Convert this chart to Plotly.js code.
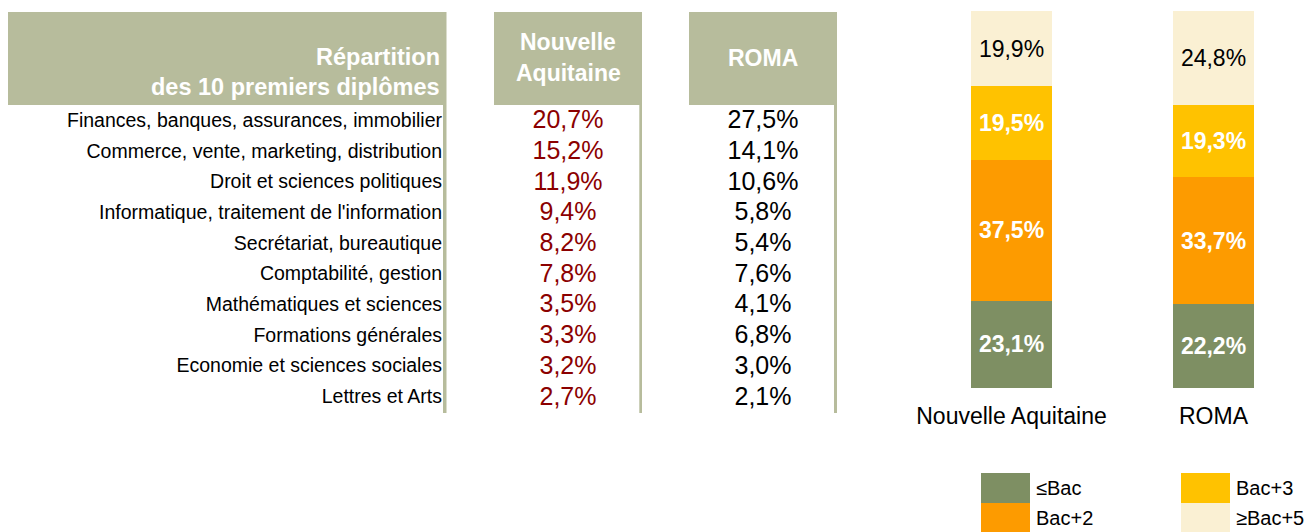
<!DOCTYPE html>
<html>
<head>
<meta charset="utf-8">
<script src="https://cdn.plot.ly/plotly-3.0.1.min.js"></script>
<style>
html,body{margin:0;padding:0;background:#fff;}
#chart{width:1307px;height:532px;}
</style>
</head>
<body>
<div id="chart"></div>
<script>
// ---------- DATA ----------
var diplomes = [
  "Finances, banques, assurances, immobilier",
  "Commerce, vente, marketing, distribution",
  "Droit et sciences politiques",
  "Informatique, traitement de l'information",
  "Secrétariat, bureautique",
  "Comptabilité, gestion",
  "Mathématiques et sciences",
  "Formations générales",
  "Economie et sciences sociales",
  "Lettres et Arts"
];
var partNouvelleAquitaine = [20.7, 15.2, 11.9, 9.4, 8.2, 7.8, 3.5, 3.3, 3.2, 2.7];
var partRoma = [27.5, 14.1, 10.6, 5.8, 5.4, 7.6, 4.1, 6.8, 3.0, 2.1];

var territoires = ["Nouvelle Aquitaine", "ROMA"];
var niveaux = ["≤Bac", "Bac+2", "Bac+3", "≥Bac+5"];
var niveauBac = [23.1, 22.2];
var niveauBac2 = [37.5, 33.7];
var niveauBac3 = [19.5, 19.3];
var niveauBac5 = [19.9, 24.8];

var tableHeaderLeft = ["Répartition", "des 10 premiers diplômes"];
var tableHeaderNA = ["Nouvelle", "Aquitaine"];
var tableHeaderRoma = ["ROMA"];

// ---------- STYLE ----------
var W = 1307, H = 532;
var FONT = "Liberation Sans, Arial, sans-serif";
var headerColor = "#B7BC9C";
var niveauColors = ["#7E8F63", "#FD9B00", "#FFC200", "#FAF0D3"];
function px(x){ return x / W; }
function py(y){ return 1 - y / H; }
function fmt(v){ return v.toFixed(1).replace('.', ',') + '%'; }

var series = [niveauBac, niveauBac2, niveauBac3, niveauBac5];
var traces = [];

series.forEach(function(vals, i){
  var light = (i === 3);
  traces.push({
    type: 'bar',
    name: niveaux[i],
    x: territoires,
    y: vals,
    xaxis: 'x', yaxis: 'y',
    width: 0.401,
    marker: {color: niveauColors[i], line: {width: 0}},
    text: vals.map(fmt),
    textposition: 'inside',
    insidetextanchor: 'middle',
    textangle: 0,
    constraintext: 'none',
    textfont: {family: FONT, size: 23, color: light ? '#000000' : '#FFFFFF', weight: light ? 'normal' : 'bold'},
    hoverinfo: 'skip',
    showlegend: false
  });
});

var labelX = diplomes.map(function(){ return 442; });
var naX = diplomes.map(function(){ return 568; });
var romaX = diplomes.map(function(){ return 763; });
traces.push({
  type: 'scatter', mode: 'text', xaxis: 'x2', yaxis: 'y2',
  x: labelX, y: diplomes, text: diplomes,
  textposition: 'middle left',
  textfont: {family: FONT, size: 19.5, color: '#000000'},
  hoverinfo: 'skip', showlegend: false, cliponaxis: false
});
traces.push({
  type: 'scatter', mode: 'text', xaxis: 'x2', yaxis: 'y2',
  x: naX, y: diplomes, text: partNouvelleAquitaine.map(fmt),
  textposition: 'middle center',
  textfont: {family: FONT, size: 25, color: '#8B0000'},
  hoverinfo: 'skip', showlegend: false, cliponaxis: false
});
traces.push({
  type: 'scatter', mode: 'text', xaxis: 'x2', yaxis: 'y2',
  x: romaX, y: diplomes, text: partRoma.map(fmt),
  textposition: 'middle center',
  textfont: {family: FONT, size: 25, color: '#000000'},
  hoverinfo: 'skip', showlegend: false, cliponaxis: false
});

// row geometry: first row centre at 122px, pitch 30.7px
var rowC0 = 122, rowPitch = 30.7;
var rowTop = -rowC0 / rowPitch, rowBottom = (H - rowC0) / rowPitch;

var shapes = [
  {type:'rect', xref:'paper', yref:'paper', x0:px(8), x1:px(446.5), y0:py(12), y1:py(105), fillcolor:headerColor, line:{width:0}, layer:'below'},
  {type:'rect', xref:'paper', yref:'paper', x0:px(494), x1:px(642), y0:py(12), y1:py(105), fillcolor:headerColor, line:{width:0}, layer:'below'},
  {type:'rect', xref:'paper', yref:'paper', x0:px(689), x1:px(837), y0:py(12), y1:py(105), fillcolor:headerColor, line:{width:0}, layer:'below'},
  {type:'rect', xref:'paper', yref:'paper', x0:px(443), x1:px(446.5), y0:py(105), y1:py(413), fillcolor:headerColor, line:{width:0}, layer:'below'},
  {type:'rect', xref:'paper', yref:'paper', x0:px(639.3), x1:px(642), y0:py(105), y1:py(413), fillcolor:headerColor, line:{width:0}, layer:'below'},
  {type:'rect', xref:'paper', yref:'paper', x0:px(834), x1:px(837), y0:py(105), y1:py(413), fillcolor:headerColor, line:{width:0}, layer:'below'}
];

var annotations = [];
function hdr(text, x, y, anchor, size){
  annotations.push({xref:'paper', yref:'paper', x:px(x), y:py(y), xanchor:anchor, yanchor:'middle',
    text:'<b>'+text+'</b>', showarrow:false, font:{family:FONT, size:size, color:'#FFFFFF'}});
}
hdr(tableHeaderLeft[0], 442, 57, 'right', 23.5);
hdr(tableHeaderLeft[1], 442, 87, 'right', 23.5);
hdr(tableHeaderNA[0], 568, 42, 'center', 23);
hdr(tableHeaderNA[1], 568, 73, 'center', 23);
hdr(tableHeaderRoma[0], 763, 58, 'center', 23);

var legPos = [[981, 473], [981, 503], [1181, 473], [1181, 503]];
niveaux.forEach(function(n, i){
  var p = legPos[i];
  shapes.push({type:'rect', xref:'paper', yref:'paper', x0:px(p[0]), x1:px(p[0]+49), y0:py(p[1]), y1:py(p[1]+30),
    fillcolor:niveauColors[i], line:{width:0}});
  annotations.push({xref:'paper', yref:'paper', x:px(p[0]+53), y:py(p[1]+15), xanchor:'left', yanchor:'middle',
    text:n, showarrow:false, font:{family:FONT, size:20, color:'#000000'}});
});

var layout = {
  width: W, height: H,
  margin: {l:0, r:0, t:0, b:0, pad:0},
  paper_bgcolor: '#FFFFFF',
  plot_bgcolor: 'rgba(0,0,0,0)',
  barmode: 'stack',
  showlegend: false,
  font: {family: FONT},
  xaxis: {
    domain: [930.7/W, 1294.3/W], range: [-0.4, 1.4], type: 'category',
    showgrid: false, zeroline: false, showline: false, ticks: '',
    tickfont: {family: FONT, size: 23, color: '#000000'},
    ticklabelstandoff: 12, fixedrange: true
  },
  yaxis: {
    domain: [(H-388)/H, (H-11)/H], range: [0, 100],
    visible: false, fixedrange: true
  },
  xaxis2: {domain:[0,1], range:[0, W], visible:false, anchor:'y2', fixedrange:true},
  yaxis2: {domain:[0,1], type:'category', categoryarray: diplomes, range:[rowBottom, rowTop], visible:false, anchor:'x2', fixedrange:true},
  shapes: shapes,
  annotations: annotations
};

Plotly.newPlot('chart', traces, layout, {displayModeBar:false, staticPlot:true});
</script>
</body>
</html>
